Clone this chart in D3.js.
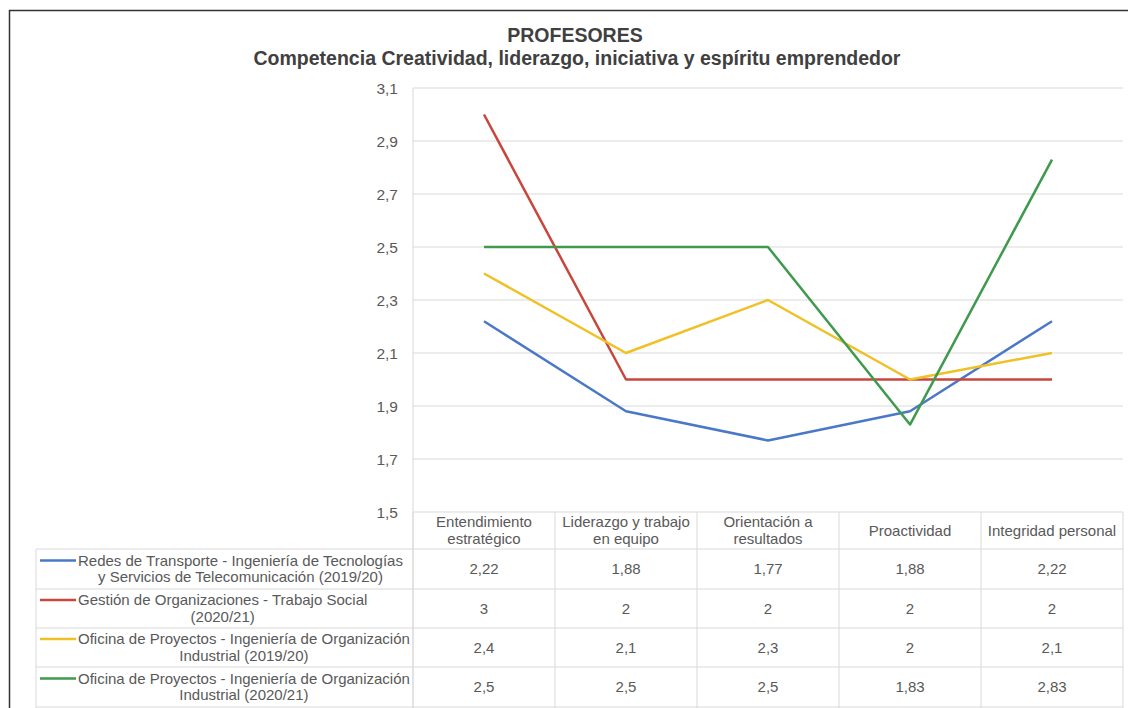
<!DOCTYPE html>
<html>
<head>
<meta charset="utf-8">
<script src="https://cdn.jsdelivr.net/npm/d3@7"></script>
<style>
  body { margin: 0; background: #fff; }
  svg { display: block; font-family: "Liberation Sans", Arial, sans-serif; }
</style>
</head>
<body>
<svg id="chart" width="1128" height="708"></svg>
<script>
// chart data
const categories = [
  ["Entendimiento", "estratégico"],
  ["Liderazgo y trabajo", "en equipo"],
  ["Orientación a", "resultados"],
  ["Proactividad"],
  ["Integridad personal"]
];
const seriesNames = [
  ["Redes de Transporte - Ingeniería de Tecnologías", "y Servicios de Telecomunicación (2019/20)"],
  ["Gestión de Organizaciones - Trabajo Social", "(2020/21)"],
  ["Oficina de Proyectos - Ingeniería de Organización", "Industrial (2019/20)"],
  ["Oficina de Proyectos - Ingeniería de Organización", "Industrial (2020/21)"]
];
const redesValues = [2.22, 1.88, 1.77, 1.88, 2.22];
const gestionValues = [3, 2, 2, 2, 2];
const oficina1920Values = [2.4, 2.1, 2.3, 2, 2.1];
const oficina2021Values = [2.5, 2.5, 2.5, 1.83, 2.83];
const seriesColors = ["#4a78c8", "#c8463c", "#f0c024", "#3f9a4e"];
const yTicks = [1.5, 1.7, 1.9, 2.1, 2.3, 2.5, 2.7, 2.9, 3.1];

const allValues = [redesValues, gestionValues, oficina1920Values, oficina2021Values];

const svg = d3.select("#chart");
const comma = v => String(v).replace(".", ",");

// frame around the chart
svg.append("path")
    .attr("d", "M9.5,720 L9.5,10.5 L1140,10.5")
    .attr("fill", "none")
    .attr("stroke", "#333")
    .attr("stroke-width", 1.5);

// titles
svg.append("text")
    .attr("x", 575).attr("y", 42)
    .attr("text-anchor", "middle")
    .attr("font-size", 19.5).attr("font-weight", "bold")
    .attr("fill", "#404040")
    .text("PROFESORES");
svg.append("text")
    .attr("x", 577).attr("y", 65)
    .attr("text-anchor", "middle")
    .attr("font-size", 19.5).attr("font-weight", "bold")
    .attr("fill", "#404040")
    .text("Competencia Creatividad, liderazgo, iniciativa y espíritu emprendedor");

const plotLeft = 413, plotRight = 1123, plotTop = 88, plotBottom = 512;
const tableLeft = 36;
const rowH = [37, 40, 39, 39, 40];
const fs = 15;

const x = d3.scaleBand()
    .domain(d3.range(categories.length))
    .range([plotLeft, plotRight]);
const y = d3.scaleLinear()
    .domain([1.5, 3.1])
    .range([plotBottom, plotTop]);

const gridColor = "#d9d9d9";
const textColor = "#595959";

// horizontal gridlines
svg.append("g")
    .selectAll("line")
    .data(yTicks.slice(1))
    .join("line")
    .attr("x1", plotLeft).attr("x2", plotRight)
    .attr("y1", d => y(d)).attr("y2", d => y(d))
    .attr("stroke", gridColor);

// y axis labels
svg.append("g")
    .selectAll("text")
    .data(yTicks)
    .join("text")
    .attr("x", 398)
    .attr("y", d => y(d) + 5.5)
    .attr("text-anchor", "end")
    .attr("font-size", 15.5)
    .attr("fill", textColor)
    .text(d => comma(d));

// data table grid
const rowTops = [plotBottom];
rowH.forEach((h, i) => rowTops.push(rowTops[i] + h));

const tg = svg.append("g").attr("stroke", gridColor).attr("fill", "none");
// axis line
tg.append("line").attr("x1", plotLeft).attr("x2", plotLeft).attr("y1", plotTop).attr("y2", 708);
// horizontal rules
rowTops.forEach((ry, i) => {
    tg.append("line")
        .attr("x1", i === 0 ? plotLeft : tableLeft).attr("x2", plotRight)
        .attr("y1", ry).attr("y2", ry);
});
// column rules
d3.range(categories.length + 1).forEach(i => {
    const cx = i < categories.length ? x(i) : plotRight;
    tg.append("line").attr("x1", cx).attr("x2", cx).attr("y1", plotBottom).attr("y2", 708);
});
tg.append("line").attr("x1", tableLeft).attr("x2", tableLeft).attr("y1", rowTops[1]).attr("y2", 708);

// header labels
categories.forEach((lines, i) => {
    const cx = x(i) + x.bandwidth() / 2;
    const cy = (rowTops[0] + rowTops[1]) / 2;
    const t = svg.append("text")
        .attr("text-anchor", "middle")
        .attr("font-size", fs)
        .attr("fill", textColor);
    lines.forEach((ln, j) => {
        t.append("tspan")
            .attr("x", cx)
            .attr("y", cy + 5 + (j - (lines.length - 1) / 2) * 16.5)
            .text(ln);
    });
});

// legend rows and values
seriesNames.forEach((lines, s) => {
    const cy = (rowTops[s + 1] + rowTops[s + 2]) / 2;
    const textStart = 78;
    const t = svg.append("text")
        .attr("text-anchor", "middle")
        .attr("font-size", fs)
        .attr("fill", textColor);
    const spans = lines.map((ln, j) =>
        t.append("tspan")
            .attr("y", cy + 5 + (j - 0.5) * 16.5)
            .text(ln));
    const w = d3.max(spans, sp => sp.node().getComputedTextLength());
    spans.forEach(sp => sp.attr("x", textStart + w / 2));
    svg.append("line")
        .attr("x1", 40).attr("x2", textStart - 2)
        .attr("y1", cy - 8.5).attr("y2", cy - 8.5)
        .attr("stroke", seriesColors[s])
        .attr("stroke-width", 2.5);

    allValues[s].forEach((v, i) => {
        svg.append("text")
            .attr("x", x(i) + x.bandwidth() / 2)
            .attr("y", cy + 5)
            .attr("text-anchor", "middle")
            .attr("font-size", fs)
            .attr("fill", textColor)
            .text(comma(v));
    });
});

// series lines
const line = d3.line()
    .x((d, i) => x(i) + x.bandwidth() / 2)
    .y(d => y(d));

svg.append("g")
    .selectAll("path")
    .data(allValues)
    .join("path")
    .attr("d", line)
    .attr("fill", "none")
    .attr("stroke", (d, i) => seriesColors[i])
    .attr("stroke-width", 2.5)
    .attr("stroke-linejoin", "round");
</script>
</body>
</html>
